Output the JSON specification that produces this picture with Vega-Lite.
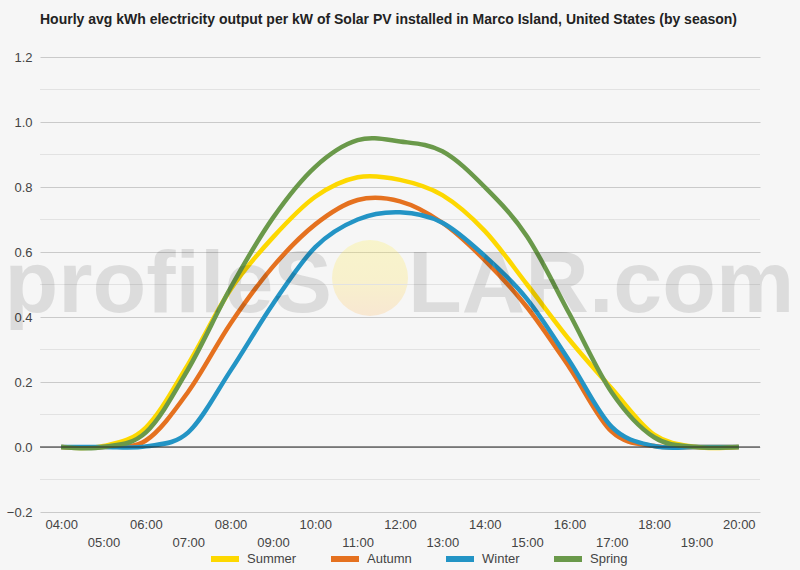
{
  "$schema": "https://vega.github.io/schema/vega-lite/v6.json",
  "width": 720,
  "height": 455,
  "autosize": "none",
  "padding": {"left": 40, "top": 57, "right": 40, "bottom": 58},
  "background": "#f6f6f6",
  "title": {
    "text": "Hourly avg kWh electricity output per kW of Solar PV installed in Marco Island, United States (by season)",
    "anchor": "start",
    "frame": "group",
    "font": "Liberation Sans",
    "fontSize": 14,
    "fontWeight": "bold",
    "color": "#222222",
    "baseline": "alphabetic",
    "offset": 13
  },
  "datasets": {
    "minorGrid": [
      {"tick": -0.1}, {"tick": 0.1}, {"tick": 0.3}, {"tick": 0.5},
      {"tick": 0.7}, {"tick": 0.9}, {"tick": 1.1}
    ],
    "output": [
      {"hour": 4, "season": "Summer", "kwh": 0},
      {"hour": 5, "season": "Summer", "kwh": 0.003},
      {"hour": 6, "season": "Summer", "kwh": 0.06},
      {"hour": 7, "season": "Summer", "kwh": 0.255},
      {"hour": 8, "season": "Summer", "kwh": 0.485},
      {"hour": 9, "season": "Summer", "kwh": 0.645},
      {"hour": 10, "season": "Summer", "kwh": 0.77},
      {"hour": 11, "season": "Summer", "kwh": 0.83},
      {"hour": 12, "season": "Summer", "kwh": 0.822},
      {"hour": 13, "season": "Summer", "kwh": 0.775},
      {"hour": 14, "season": "Summer", "kwh": 0.665},
      {"hour": 15, "season": "Summer", "kwh": 0.5},
      {"hour": 16, "season": "Summer", "kwh": 0.33},
      {"hour": 17, "season": "Summer", "kwh": 0.18},
      {"hour": 18, "season": "Summer", "kwh": 0.038},
      {"hour": 19, "season": "Summer", "kwh": 0},
      {"hour": 20, "season": "Summer", "kwh": 0},
      {"hour": 4, "season": "Autumn", "kwh": 0},
      {"hour": 5, "season": "Autumn", "kwh": 0},
      {"hour": 6, "season": "Autumn", "kwh": 0.02},
      {"hour": 7, "season": "Autumn", "kwh": 0.17},
      {"hour": 8, "season": "Autumn", "kwh": 0.38},
      {"hour": 9, "season": "Autumn", "kwh": 0.555},
      {"hour": 10, "season": "Autumn", "kwh": 0.685},
      {"hour": 11, "season": "Autumn", "kwh": 0.76},
      {"hour": 12, "season": "Autumn", "kwh": 0.756},
      {"hour": 13, "season": "Autumn", "kwh": 0.69},
      {"hour": 14, "season": "Autumn", "kwh": 0.575},
      {"hour": 15, "season": "Autumn", "kwh": 0.43},
      {"hour": 16, "season": "Autumn", "kwh": 0.245},
      {"hour": 17, "season": "Autumn", "kwh": 0.047},
      {"hour": 18, "season": "Autumn", "kwh": 0.003},
      {"hour": 19, "season": "Autumn", "kwh": 0},
      {"hour": 20, "season": "Autumn", "kwh": 0},
      {"hour": 4, "season": "Winter", "kwh": 0},
      {"hour": 5, "season": "Winter", "kwh": 0},
      {"hour": 6, "season": "Winter", "kwh": 0.002},
      {"hour": 7, "season": "Winter", "kwh": 0.045},
      {"hour": 8, "season": "Winter", "kwh": 0.235},
      {"hour": 9, "season": "Winter", "kwh": 0.44},
      {"hour": 10, "season": "Winter", "kwh": 0.615},
      {"hour": 11, "season": "Winter", "kwh": 0.7},
      {"hour": 12, "season": "Winter", "kwh": 0.722},
      {"hour": 13, "season": "Winter", "kwh": 0.69},
      {"hour": 14, "season": "Winter", "kwh": 0.588},
      {"hour": 15, "season": "Winter", "kwh": 0.455},
      {"hour": 16, "season": "Winter", "kwh": 0.265},
      {"hour": 17, "season": "Winter", "kwh": 0.062},
      {"hour": 18, "season": "Winter", "kwh": 0.003},
      {"hour": 19, "season": "Winter", "kwh": 0},
      {"hour": 20, "season": "Winter", "kwh": 0},
      {"hour": 4, "season": "Spring", "kwh": 0},
      {"hour": 5, "season": "Spring", "kwh": 0},
      {"hour": 6, "season": "Spring", "kwh": 0.045},
      {"hour": 7, "season": "Spring", "kwh": 0.24},
      {"hour": 8, "season": "Spring", "kwh": 0.49},
      {"hour": 9, "season": "Spring", "kwh": 0.705},
      {"hour": 10, "season": "Spring", "kwh": 0.862},
      {"hour": 11, "season": "Spring", "kwh": 0.944},
      {"hour": 12, "season": "Spring", "kwh": 0.94},
      {"hour": 13, "season": "Spring", "kwh": 0.91},
      {"hour": 14, "season": "Spring", "kwh": 0.8},
      {"hour": 15, "season": "Spring", "kwh": 0.648},
      {"hour": 16, "season": "Spring", "kwh": 0.41},
      {"hour": 17, "season": "Spring", "kwh": 0.168},
      {"hour": 18, "season": "Spring", "kwh": 0.03},
      {"hour": 19, "season": "Spring", "kwh": 0},
      {"hour": 20, "season": "Spring", "kwh": 0}
    ]
  },
  "layer": [
    {
      "description": "Pale sun disc of the site logo; this first layer also carries the y axis",
      "data": {"values": [{}]},
      "mark": {
        "type": "point",
        "shape": "circle",
        "filled": true,
        "size": 5776,
        "opacity": 0.24,
        "fill": {
          "gradient": "linear",
          "x1": 0, "y1": 0, "x2": 0, "y2": 1,
          "stops": [
            {"offset": 0, "color": "#ffee44"},
            {"offset": 0.55, "color": "#ffe04a"},
            {"offset": 1, "color": "#ffb860"}
          ]
        }
      },
      "encoding": {
        "x": {"datum": 11.292, "type": "quantitative"},
        "y": {
          "datum": 0.52,
          "type": "quantitative",
          "scale": {"domain": [-0.2, 1.2], "nice": false, "zero": false},
          "axis": {
            "title": null,
            "grid": true,
            "values": [-0.2, 0, 0.2, 0.4, 0.6, 0.8, 1.0, 1.2],
            "format": ".1f",
            "gridColor": "#cacaca",
            "labelPadding": 8,
            "ticks": false,
            "domain": false
          }
        }
      }
    },
    {
      "description": "Faint half-step grid lines",
      "data": {"name": "minorGrid"},
      "mark": {"type": "rule", "color": "#e2e2e2", "strokeWidth": 1},
      "encoding": {
        "y": {"field": "tick", "type": "quantitative"}
      }
    },
    {
      "data": {"name": "output"},
      "mark": {"type": "line", "strokeWidth": 4.5, "interpolate": "cardinal"},
      "encoding": {
        "x": {
          "field": "hour",
          "type": "quantitative",
          "scale": {"domain": [3.5, 20.5], "nice": false, "zero": false},
          "axis": {
            "title": null,
            "values": [4, 5, 6, 7, 8, 9, 10, 11, 12, 13, 14, 15, 16, 17, 18, 19, 20],
            "labelExpr": "datum.value % 2 == 1 ? ['', (datum.value < 10 ? '0' : '') + datum.value + ':00'] : (datum.value < 10 ? '0' : '') + datum.value + ':00'",
            "labelOverlap": false,
            "labelFlush": false,
            "labelLineHeight": 18,
            "labelPadding": 6,
            "grid": false,
            "ticks": false,
            "domain": false
          }
        },
        "y": {
          "field": "kwh",
          "type": "quantitative",
          "scale": {"domain": [-0.2, 1.2], "nice": false, "zero": false},
          "axis": {
            "title": null,
            "grid": true,
            "values": [-0.2, 0, 0.2, 0.4, 0.6, 0.8, 1.0, 1.2],
            "format": ".1f",
            "gridColor": "#cacaca",
            "labelPadding": 8,
            "ticks": false,
            "domain": false
          }
        },
        "color": {
          "field": "season",
          "type": "nominal",
          "sort": ["Summer", "Autumn", "Winter", "Spring"],
          "scale": {
            "domain": ["Summer", "Autumn", "Winter", "Spring"],
            "range": ["#fdd800", "#e5711f", "#2394c5", "#6a994a"]
          },
          "legend": {
            "title": null,
            "orient": "none",
            "direction": "horizontal",
            "legendX": 168,
            "legendY": 485,
            "symbolType": "stroke",
            "symbolStrokeWidth": 6,
            "symbolSize": 784,
            "labelOffset": 5,
            "columnPadding": 22,
            "padding": 0
          }
        }
      }
    },
    {
      "description": "Baseline at zero",
      "data": {"values": [{}]},
      "mark": {"type": "rule", "color": "#222222", "strokeWidth": 1},
      "encoding": {
        "y": {"datum": 0, "type": "quantitative"}
      }
    },
    {
      "description": "Site name watermark, first half",
      "data": {"values": [{}]},
      "mark": {
        "type": "text",
        "text": "profileS",
        "align": "right",
        "baseline": "alphabetic",
        "font": "Liberation Sans",
        "fontSize": 88,
        "fontWeight": "bold",
        "color": "#000000",
        "opacity": 0.1
      },
      "encoding": {
        "x": {"datum": 10.395, "type": "quantitative"},
        "y": {"datum": 0.415, "type": "quantitative"}
      }
    },
    {
      "description": "Site name watermark, second half",
      "data": {"values": [{}]},
      "mark": {
        "type": "text",
        "text": "LAR.com",
        "align": "left",
        "baseline": "alphabetic",
        "font": "Liberation Sans",
        "fontSize": 88,
        "fontWeight": "bold",
        "color": "#000000",
        "opacity": 0.1
      },
      "encoding": {
        "x": {"datum": 12.19, "type": "quantitative"},
        "y": {"datum": 0.415, "type": "quantitative"}
      }
    }
  ],
  "config": {
    "view": {"stroke": null},
    "axis": {
      "labelFont": "Liberation Sans",
      "labelFontSize": 13,
      "labelColor": "#444444"
    },
    "legend": {
      "labelFont": "Liberation Sans",
      "labelFontSize": 13,
      "labelColor": "#444444"
    }
  }
}
